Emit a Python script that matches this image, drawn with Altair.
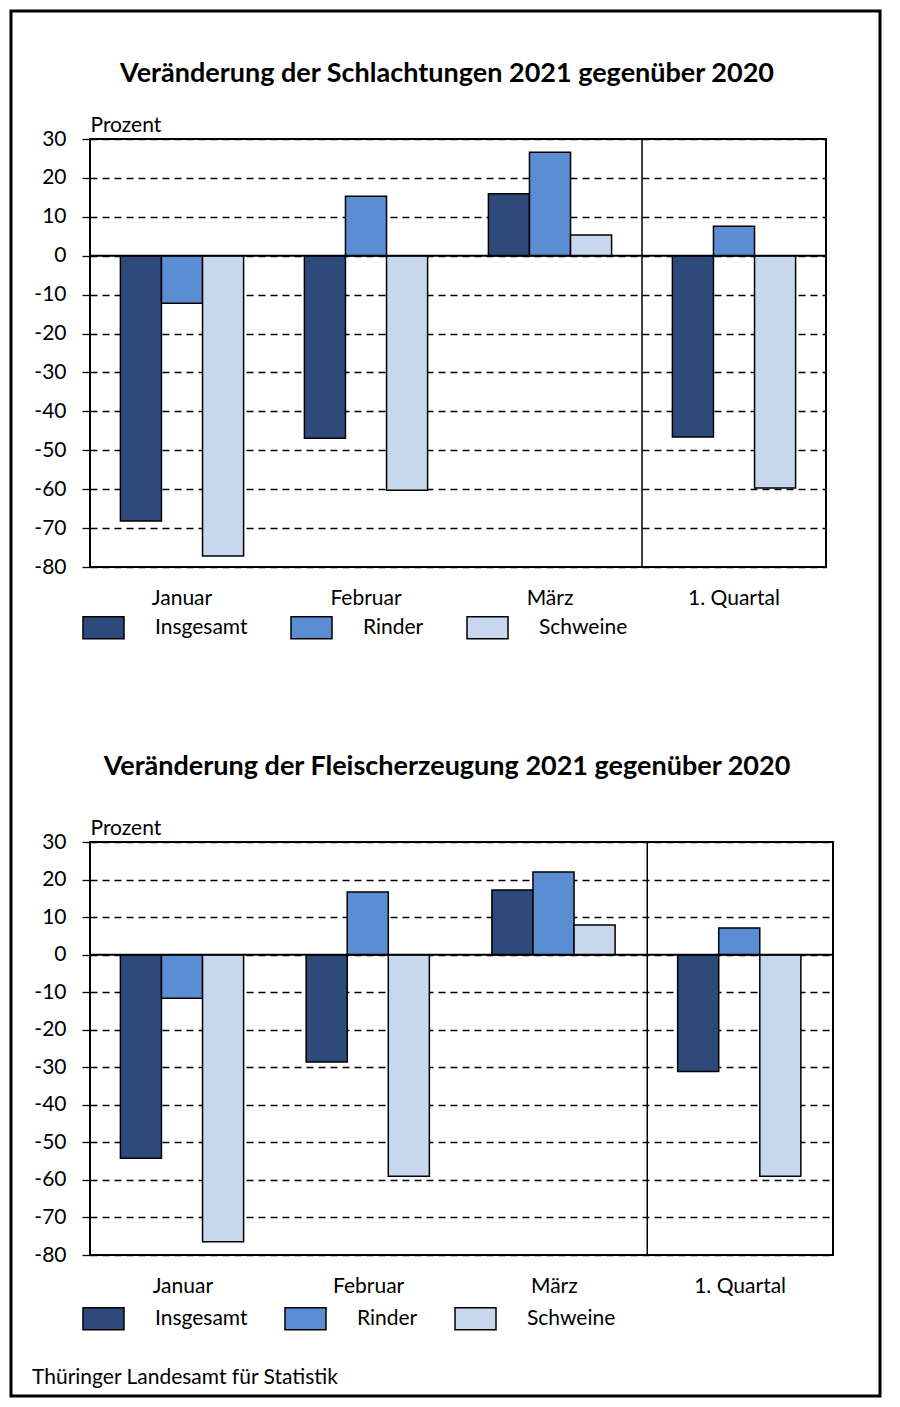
import altair as alt
import pandas as pd

FONT = "Lato"

categories = ["Januar", "Februar", "März", "1. Quartal"]
series = ["Insgesamt", "Rinder", "Schweine"]
colors = ["#2d4a7a", "#5b8dd3", "#c6d7ee"]

# Veränderung der Schlachtungen 2021 gegenüber 2020 (Prozent)
schl_insgesamt = [-68.2, -46.9, 15.9, -46.6]
schl_rinder = [-12.2, 15.3, 26.6, 7.6]
schl_schweine = [-77.2, -60.3, 5.3, -59.7]

# Veränderung der Fleischerzeugung 2021 gegenüber 2020 (Prozent)
fleisch_insgesamt = [-54.2, -28.6, 17.2, -31.1]
fleisch_rinder = [-11.6, 16.7, 22.0, 7.1]
fleisch_schweine = [-76.5, -59.0, 7.9, -59.0]

y_ticks = [30, 20, 10, 0, -10, -20, -30, -40, -50, -60, -70, -80]

title_top = "Veränderung der Schlachtungen 2021 gegenüber 2020"
title_bottom = "Veränderung der Fleischerzeugung 2021 gegenüber 2020"
source_text = "Thüringer Landesamt für Statistik"


def make_df(ins, rin, sch):
    rows = []
    for i, c in enumerate(categories):
        for s, vals in zip(series, [ins, rin, sch]):
            rows.append({"Monat": c, "Serie": s, "Wert": vals[i]})
    return pd.DataFrame(rows)


def panel(df, title, width, height, legend_y, title_y, col_pad, extra=None):
    x_axis = alt.Axis(title=None, labelAngle=0, ticks=False, domain=False,
                      labelPadding=20, labelFontSize=21, labelColor="black",
                      labelFont=FONT)
    x_scale = alt.Scale(paddingInner=0, paddingOuter=0)
    y_scale = alt.Scale(domain=[-80, 30], nice=False, zero=False)
    y_axis = alt.Axis(values=y_ticks, title="Prozent", titleAngle=0,
                      titleX=0, titleY=-8, titleAlign="left",
                      titleBaseline="alphabetic", titleFontWeight="normal",
                      titleFontSize=21, titleFont=FONT, titleColor="black",
                      grid=True, gridDash=[7, 5], gridColor="black",
                      gridWidth=1.3, gridOpacity=1, labelOverlap=False,
                      labelExpr="datum.value",
                      tickSize=8, tickColor="black", tickWidth=1.3,
                      domain=False, labelPadding=16, labelFontSize=21,
                      labelColor="black", labelFont=FONT)
    bars = alt.Chart(df).mark_bar(stroke="black", strokeWidth=1.5, opacity=1).encode(
        x=alt.X("Monat:N", sort=categories, scale=x_scale, axis=x_axis),
        xOffset=alt.XOffset("Serie:N", sort=series,
                            scale=alt.Scale(paddingOuter=0.74, paddingInner=0)),
        y=alt.Y("Wert:Q", scale=y_scale, axis=y_axis),
        color=alt.Color("Serie:N", sort=series,
                        scale=alt.Scale(domain=series, range=colors),
                        legend=alt.Legend(title=None, orient="none", legendX=-8,
                                          legendY=legend_y, direction="horizontal",
                                          symbolType="M-1,-0.54H1V0.54H-1Z",
                                          symbolSize=1681, symbolStrokeColor="black",
                                          symbolStrokeWidth=1.5, symbolOpacity=1,
                                          labelFontSize=21, labelOffset=30,
                                          columnPadding=col_pad, labelFont=FONT,
                                          labelColor="black")),
    )
    zero = alt.Chart(pd.DataFrame({"Wert": [0]})).mark_rule(
        color="black", strokeWidth=2).encode(
        y=alt.Y("Wert:Q", scale=y_scale, axis=y_axis))
    sep = alt.Chart(pd.DataFrame({"Monat": ["1. Quartal"]})).mark_rule(
        color="black", strokeWidth=1.5).encode(
        x=alt.X("Monat:N", sort=categories, bandPosition=0, scale=x_scale,
                axis=x_axis),
        y=alt.value(0), y2=alt.value(height))
    ttl = alt.Chart(pd.DataFrame({"t": [title]})).mark_text(
        font=FONT, fontSize=27, fontWeight="bold", align="center",
        baseline="middle", color="black").encode(
        text="t:N", x=alt.value(357), y=alt.value(title_y))
    layers = [bars, zero, sep, ttl]
    if extra:
        layers += extra
    return alt.layer(*layers).properties(width=width, height=height)


frame = alt.Chart(pd.DataFrame({"k": [0]})).mark_rect(
    filled=False, stroke="black", strokeWidth=3).encode(
    x=alt.value(-79), x2=alt.value(790), y=alt.value(-128), y2=alt.value(1257))

src = alt.Chart(pd.DataFrame({"t": [source_text]})).mark_text(
    font=FONT, fontSize=21, align="left", baseline="middle", color="black").encode(
    text="t:N", x=alt.value(-58), y=alt.value(536))

top = panel(make_df(schl_insgesamt, schl_rinder, schl_schweine), title_top,
            736, 428, 467, -65, 40, extra=[frame])
bottom = panel(make_df(fleisch_insgesamt, fleisch_rinder, fleisch_schweine),
               title_bottom, 743, 413, 455, -75, 34, extra=[src])

chart = alt.vconcat(top, bottom, spacing=275, bounds="flush").resolve_scale(
    x="independent", y="independent", color="independent"
).properties(padding=0, background="white").configure_view(
    stroke="black", strokeWidth=2)

chart.save("out.html", embed_options={"renderer": "svg", "actions": False})
